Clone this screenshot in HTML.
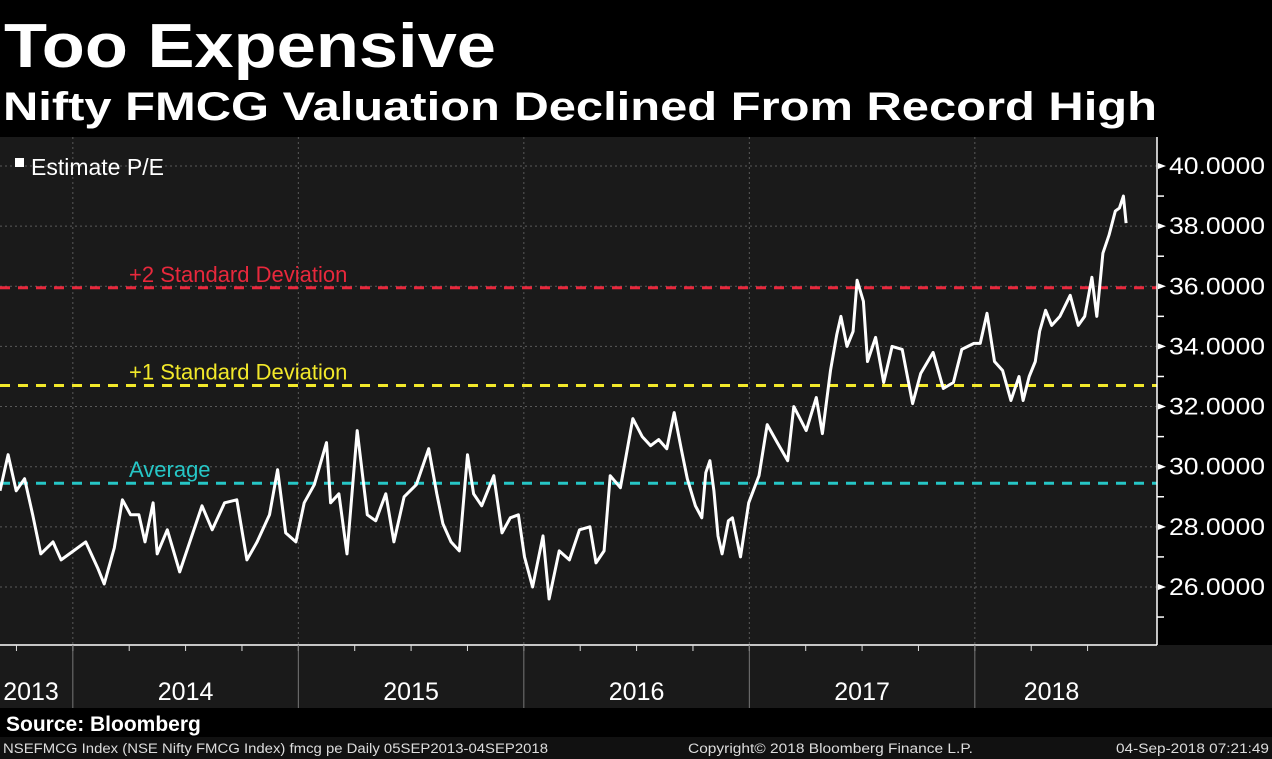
<!DOCTYPE html>
<html><head><meta charset="utf-8"><style>
html,body{margin:0;padding:0;background:#000;}
svg{display:block;font-family:"Liberation Sans",sans-serif;}
</style></head><body>
<svg id="chart" width="1272" height="759" viewBox="0 0 1272 759">
<rect x="0" y="0" width="1272" height="759" fill="#000"/>
<text x="4" y="67" font-size="62" font-weight="bold" fill="#fff" textLength="492" lengthAdjust="spacingAndGlyphs">Too Expensive</text>
<text x="3" y="120" font-size="40" font-weight="bold" fill="#fff" textLength="1154" lengthAdjust="spacingAndGlyphs">Nifty FMCG Valuation Declined From Record High</text>
<rect x="0" y="137" width="1157" height="508" fill="#1a1a1a"/>
<rect x="0" y="645" width="1272" height="63" fill="#1a1a1a"/>
<g id="grid"></g>
<g id="refs"></g>
<g id="series"></g>
<g id="yaxis"></g>
<g id="xaxis"></g>
<rect x="15" y="158" width="9" height="9" fill="#fff"/>
<text x="31" y="175" font-size="23" fill="#fff">Estimate P/E</text>
<rect x="0" y="708" width="1272" height="29" fill="#000"/>
<text x="6" y="731" font-size="21" font-weight="bold" fill="#fff">Source: Bloomberg</text>
<rect x="0" y="737" width="1272" height="22" fill="#111"/>
<text x="3" y="753" font-size="13.5" fill="#ddd" textLength="545" lengthAdjust="spacingAndGlyphs">NSEFMCG Index (NSE Nifty FMCG Index) fmcg pe  Daily 05SEP2013-04SEP2018</text>
<text x="688" y="753" font-size="13.5" fill="#ddd" textLength="285" lengthAdjust="spacingAndGlyphs">Copyright© 2018 Bloomberg Finance L.P.</text>
<text x="1116" y="753" font-size="13.5" fill="#ddd" textLength="153" lengthAdjust="spacingAndGlyphs">04-Sep-2018 07:21:49</text>
</svg>
<script>
const dates=[2013.677,2013.713,2013.749,2013.786,2013.822,2013.858,2013.912,2013.948,2014.003,2014.057,2014.112,2014.139,2014.184,2014.220,2014.256,2014.293,2014.320,2014.356,2014.374,2014.419,2014.474,2014.510,2014.573,2014.618,2014.673,2014.727,2014.772,2014.817,2014.872,2014.908,2014.944,2014.989,2015.026,2015.071,2015.125,2015.143,2015.180,2015.216,2015.261,2015.306,2015.343,2015.388,2015.424,2015.469,2015.523,2015.578,2015.614,2015.641,2015.677,2015.714,2015.750,2015.777,2015.813,2015.867,2015.903,2015.940,2015.976,2016.003,2016.039,2016.085,2016.112,2016.157,2016.202,2016.247,2016.293,2016.320,2016.356,2016.383,2016.428,2016.483,2016.525,2016.562,2016.598,2016.634,2016.667,2016.698,2016.725,2016.761,2016.789,2016.807,2016.825,2016.843,2016.861,2016.879,2016.907,2016.925,2016.961,2016.997,2017.043,2017.079,2017.124,2017.170,2017.197,2017.252,2017.297,2017.324,2017.360,2017.388,2017.406,2017.433,2017.460,2017.478,2017.506,2017.524,2017.560,2017.596,2017.633,2017.678,2017.724,2017.760,2017.815,2017.860,2017.905,2017.942,2017.996,2018.024,2018.054,2018.087,2018.123,2018.160,2018.196,2018.214,2018.241,2018.268,2018.287,2018.314,2018.341,2018.377,2018.423,2018.459,2018.487,2018.519,2018.541,2018.568,2018.595,2018.623,2018.641,2018.659,2018.671];
const peValues=[29.2,30.4,29.2,29.6,28.4,27.1,27.5,26.9,27.2,27.5,26.6,26.1,27.3,28.9,28.4,28.4,27.5,28.8,27.1,27.9,26.5,27.3,28.7,27.9,28.8,28.9,26.9,27.5,28.4,29.9,27.8,27.5,28.8,29.4,30.8,28.8,29.1,27.1,31.2,28.4,28.2,29.1,27.5,29.0,29.4,30.6,29.1,28.1,27.5,27.2,30.4,29.1,28.7,29.7,27.8,28.3,28.4,27.0,26.0,27.7,25.6,27.2,26.9,27.9,28.0,26.8,27.2,29.7,29.3,31.6,31.0,30.7,30.9,30.6,31.8,30.6,29.6,28.7,28.3,29.8,30.2,29.2,27.7,27.1,28.2,28.3,27.0,28.8,29.7,31.4,30.8,30.2,32.0,31.2,32.3,31.1,33.2,34.4,35.0,34.0,34.5,36.2,35.5,33.5,34.3,32.8,34.0,33.9,32.1,33.1,33.8,32.6,32.8,33.9,34.1,34.1,35.1,33.5,33.2,32.2,33.0,32.2,33.0,33.5,34.5,35.2,34.7,35.0,35.7,34.7,35.0,36.3,35.0,37.1,37.7,38.5,38.6,39.0,38.1];
const refLabels=["Average","+1 Standard Deviation","+2 Standard Deviation"];
const refValues=[29.45,32.7,35.95];
const yTicks=[26,28,30,32,34,36,38,40];
const yTickLabels=["26.0000","28.0000","30.0000","32.0000","34.0000","36.0000","38.0000","40.0000"];
const years=["2013","2014","2015","2016","2017","2018"];

const NS="http://www.w3.org/2000/svg";
const X0=0,PXPERYEAR=225.5,T0=2013.677;
function xs(t){return X0+(t-T0)*PXPERYEAR;}
function ys(v){return 166+(40-v)*30.07;}
function mk(tag,attrs,parent){const e=document.createElementNS(NS,tag);for(const k in attrs)e.setAttribute(k,attrs[k]);parent.appendChild(e);return e;}

const grid=document.getElementById('grid');
yTicks.forEach(v=>{
  const l=mk('line',{x1:0,x2:1157,y1:ys(v),y2:ys(v),stroke:'#5a5a5a','stroke-width':1,'stroke-dasharray':'2,3'},grid);
  
  
});
for(let y=2014;y<=2018;y++){
  const l=mk('line',{x1:xs(y),x2:xs(y),y1:137,y2:645,stroke:'#5a5a5a','stroke-width':1,'stroke-dasharray':'2,3'},grid);
  
  
}

const refColors=['#26c6c6','#f2e82a','#e8283c'];
const refs=document.getElementById('refs');
refValues.forEach((v,i)=>{
  const l=mk('line',{x1:0,x2:1157,y1:ys(v),y2:ys(v),stroke:refColors[i],'stroke-width':3,'stroke-dasharray':'10,8'},refs);
  
  
  const t=mk('text',{x:129,y:ys(v)-6,'font-size':22,fill:refColors[i]},refs);
  t.textContent=refLabels[i];
  
  
});

const series=document.getElementById('series');
let d='';
dates.forEach((t,i)=>{d+=(i?'L':'M')+xs(t).toFixed(1)+','+ys(peValues[i]).toFixed(1);});
const p=mk('path',{d:d,fill:'none',stroke:'#fff','stroke-width':3,'stroke-linejoin':'round'},series);



const yaxis=document.getElementById('yaxis');
const ax=mk('line',{x1:1157,x2:1157,y1:137,y2:645,stroke:'#fff','stroke-width':1.5},yaxis);


for(let v=25;v<=40;v++){
  if(v%2===1){mk('line',{x1:1157,x2:1164,y1:ys(v),y2:ys(v),stroke:'#fff','stroke-width':1.5},yaxis);}
}
yTicks.forEach((v,i)=>{
  const tr=mk('polygon',{points:`1158,${ys(v)-3} 1166,${ys(v)} 1158,${ys(v)+3}`,fill:'#fff'},yaxis);
  
  
  const t=mk('text',{x:1169,y:ys(v)+8,'font-size':24,fill:'#fff',textLength:96,lengthAdjust:'spacingAndGlyphs'},yaxis);
  t.textContent=yTickLabels[i];
  
  
});

const xaxis=document.getElementById('xaxis');
const xl=mk('line',{x1:0,x2:1157,y1:645,y2:645,stroke:'#fff','stroke-width':1.5},xaxis);


for(let q=2013.75;q<2018.75;q+=0.25){
  const x=xs(q); if(x<0||x>1150)continue;
  mk('line',{x1:x,x2:x,y1:645,y2:651,stroke:'#ddd','stroke-width':1},xaxis);
}
for(let y=2014;y<=2018;y++){
  const s=mk('line',{x1:xs(y),x2:xs(y),y1:645,y2:708,stroke:'#777','stroke-width':1},xaxis);
  
  
}
years.forEach((yr,i)=>{
  const y=+yr;
  const a=Math.max(T0,y), b=Math.min(2018.68,y+1);
  let cx=(xs(a)+xs(b))/2;
  if(i===0)cx=31;
  const t=mk('text',{x:cx,y:700,'font-size':25,fill:'#fff','text-anchor':'middle'},xaxis);
  t.textContent=yr;
  
  
});
</script>
</body></html>
